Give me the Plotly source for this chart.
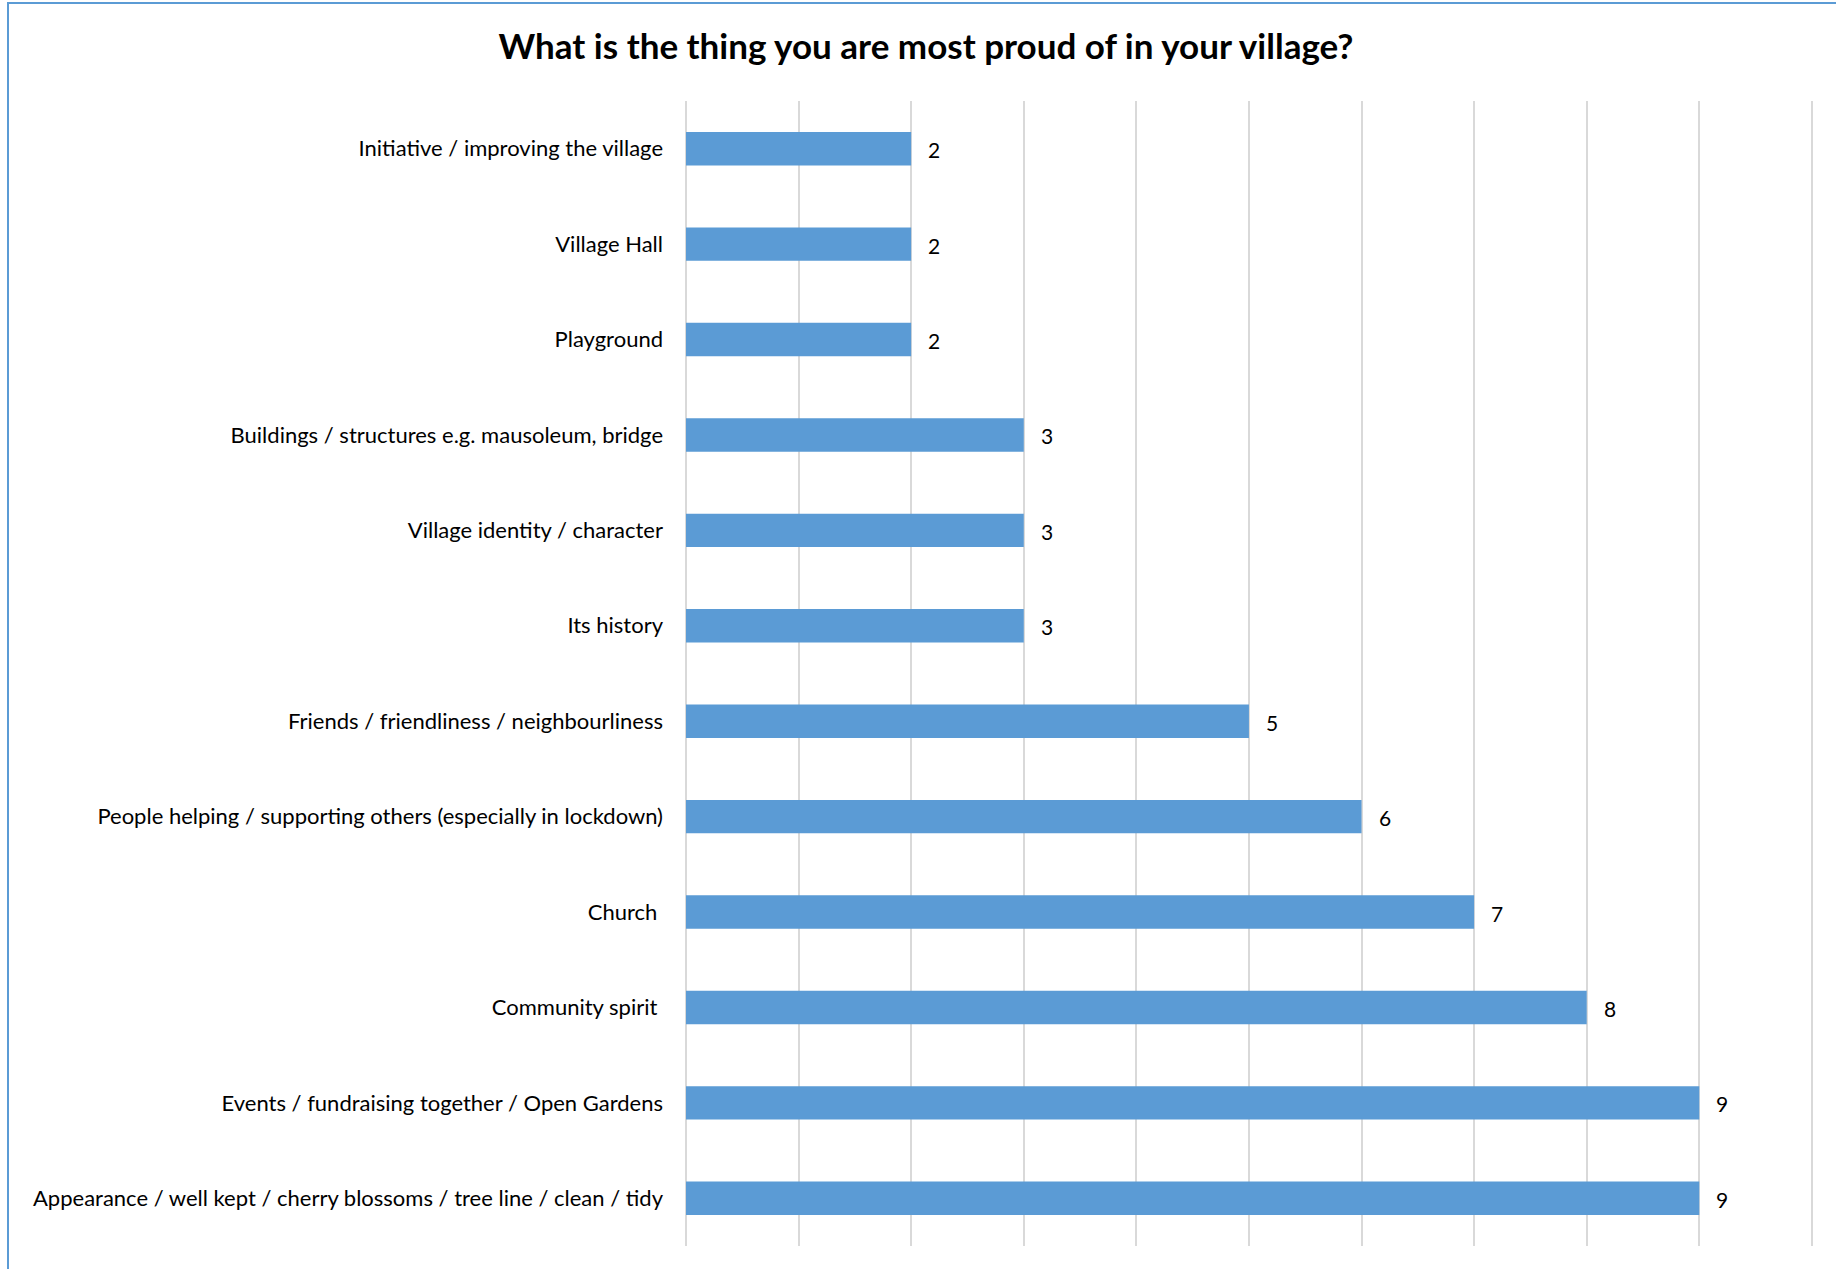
import plotly.graph_objects as go

# Survey answers, listed top to bottom
categories = [
    "Initiative / improving the village",
    "Village Hall",
    "Playground",
    "Buildings / structures e.g. mausoleum, bridge",
    "Village identity / character",
    "Its history",
    "Friends / friendliness / neighbourliness",
    "People helping / supporting others (especially in lockdown)",
    "Church\u00a0",
    "Community spirit\u00a0",
    "Events / fundraising together / Open Gardens",
    "Appearance / well kept / cherry blossoms / tree line / clean / tidy",
]
counts = [2, 2, 2, 3, 3, 3, 5, 6, 7, 8, 9, 9]
x_ticks = list(range(0, 11))

W, H = 1836, 1269
ML, MR, MT, MB = 686, 23, 101, 23
BLUE = "#5B9BD5"
FONT = "Lato, Open Sans, sans-serif"

fig = go.Figure(
    go.Bar(
        x=counts,
        y=categories,
        orientation="h",
        marker=dict(color=BLUE, line=dict(width=0)),
        width=0.35,
        hoverinfo="x+y",
    )
)

# Value labels to the right of each bar
for cat, val in zip(categories, counts):
    fig.add_annotation(
        x=val, y=cat, xref="x", yref="y",
        text=str(val), showarrow=False,
        xanchor="left", yanchor="middle",
        xshift=15, yshift=-1,
        font=dict(size=21, color="#000000", family=FONT),
    )

plot_w = W - ML - MR
plot_h = H - MT - MB


def px_to_paper_x(px):
    return (px - ML) / plot_w


def px_to_paper_y(py):
    return 1 - (py - MT) / plot_h


# Frame lines along the left and top edges
fig.add_shape(type="line", xref="paper", yref="paper",
              x0=px_to_paper_x(8), x1=px_to_paper_x(8),
              y0=px_to_paper_y(2), y1=px_to_paper_y(H + 5),
              line=dict(color=BLUE, width=2))
fig.add_shape(type="line", xref="paper", yref="paper",
              x0=px_to_paper_x(7), x1=px_to_paper_x(W + 5),
              y0=px_to_paper_y(3), y1=px_to_paper_y(3),
              line=dict(color=BLUE, width=2))

fig.update_layout(
    width=W,
    height=H,
    margin=dict(l=ML, r=MR, t=MT, b=MB, pad=0),
    paper_bgcolor="white",
    plot_bgcolor="white",
    showlegend=False,
    title=dict(
        text="<b>What is the thing you are most proud of in your village?</b>",
        x=926 / W,
        xanchor="center",
        y=1 - 47 / H,
        yanchor="middle",
        font=dict(size=35, color="#000000", family=FONT),
    ),
    xaxis=dict(
        range=[0, 10.01],
        tickvals=x_ticks,
        showticklabels=False,
        showgrid=True,
        gridcolor="#D9D9D9",
        gridwidth=1.5,
        zeroline=True,
        zerolinecolor="#D9D9D9",
        zerolinewidth=1.5,
        showline=False,
        fixedrange=True,
    ),
    yaxis=dict(
        autorange="reversed",
        showgrid=False,
        showline=False,
        ticks="",
        ticklabelstandoff=22,
        tickfont=dict(size=22, color="#000000", family=FONT),
    ),
)

fig.write_html("out.html")
